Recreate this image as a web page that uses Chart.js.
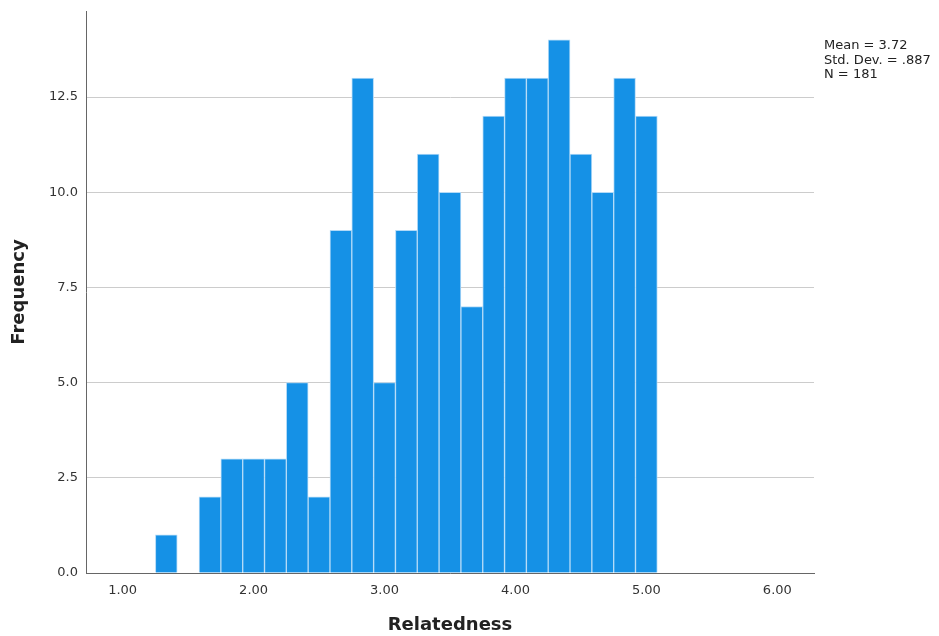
<!DOCTYPE html>
<html>
<head>
<meta charset="utf-8">
<script src="https://cdn.jsdelivr.net/npm/chart.js@4.4.1/dist/chart.umd.min.js"></script>
<style>
  html, body { margin: 0; padding: 0; background: #fff; }
  #wrap { position: relative; width: 939px; height: 636px; }
  #stats {
    position: absolute; left: 824px; top: 38px;
    font: 13px "DejaVu Sans", sans-serif; line-height: 14.5px; color: #222;
  }
</style>
</head>
<body>
<div id="wrap">
  <canvas id="histChart" width="939" height="636"></canvas>
  <div id="stats">Mean = 3.72<br>Std. Dev. = .887<br>N = 181</div>
</div>
<script>
// bin centres (width 1/6) and counts
const binCenters = [1.3333, 1.5, 1.6667, 1.8333, 2.0, 2.1667, 2.3333, 2.5, 2.6667, 2.8333,
  3.0, 3.1667, 3.3333, 3.5, 3.6667, 3.8333, 4.0, 4.1667, 4.3333, 4.5, 4.6667, 4.8333, 5.0];
const frequencies = [1, 0, 2, 3, 3, 3, 5, 2, 9, 13, 5, 9, 11, 10, 7, 12, 13, 13, 14, 11, 10, 13, 12];
const xTicks = [1, 2, 3, 4, 5, 6];
const yTicks = [0, 2.5, 5, 7.5, 10, 12.5];

const points = binCenters.map((c, i) => ({ x: c, y: frequencies[i] }));

const tickFont = { family: 'DejaVu Sans', size: 13 };
const titleFont = { family: 'DejaVu Sans', size: 18, weight: 'bold' };

new Chart(document.getElementById('histChart'), {
  type: 'bar',
  data: {
    datasets: [{
      label: 'Frequency',
      data: points,
      backgroundColor: '#1591e6',
      borderColor: '#b3daf7',
      borderWidth: 1,
      barPercentage: 1.0,
      categoryPercentage: 1.0
    }]
  },
  options: {
    responsive: false,
    animation: false,
    layout: { padding: { top: 11, right: 125, left: 0, bottom: 0 } },
    plugins: {
      legend: { display: false },
      tooltip: { enabled: false }
    },
    scales: {
      x: {
        type: 'linear',
        offset: false,
        min: 0.72,
        max: 6.28,
        afterFit: (scale) => {
          scale.height = 63;
          scale.paddingLeft = 0;
          scale.paddingRight = 0;
        },
        afterBuildTicks: (scale) => { scale.ticks = xTicks.map(v => ({ value: v })); },
        grid: { display: false, drawTicks: false },
        border: { color: '#666', width: 1 },
        ticks: {
          font: tickFont,
          color: '#333',
          padding: 10,
          maxRotation: 0,
          callback: (v) => v.toFixed(2)
        },
        title: {
          display: true,
          text: 'Relatedness',
          font: titleFont,
          color: '#222',
          padding: { top: 0, bottom: 0 }
        }
      },
      y: {
        min: 0,
        max: 14.76,
        afterFit: (scale) => {
          scale.width = 86;
          scale.paddingTop = 0;
          scale.paddingBottom = 0;
        },
        afterBuildTicks: (scale) => { scale.ticks = yTicks.map(v => ({ value: v })); },
        grid: { color: '#cccccc', drawTicks: false },
        border: { color: '#666', width: 1 },
        ticks: {
          font: tickFont,
          color: '#333',
          padding: 8,
          callback: (v) => v.toFixed(1)
        },
        title: {
          display: true,
          text: 'Frequency',
          font: titleFont,
          color: '#222',
          padding: { top: 9, bottom: 0 }
        }
      }
    }
  }
});
</script>
</body>
</html>
